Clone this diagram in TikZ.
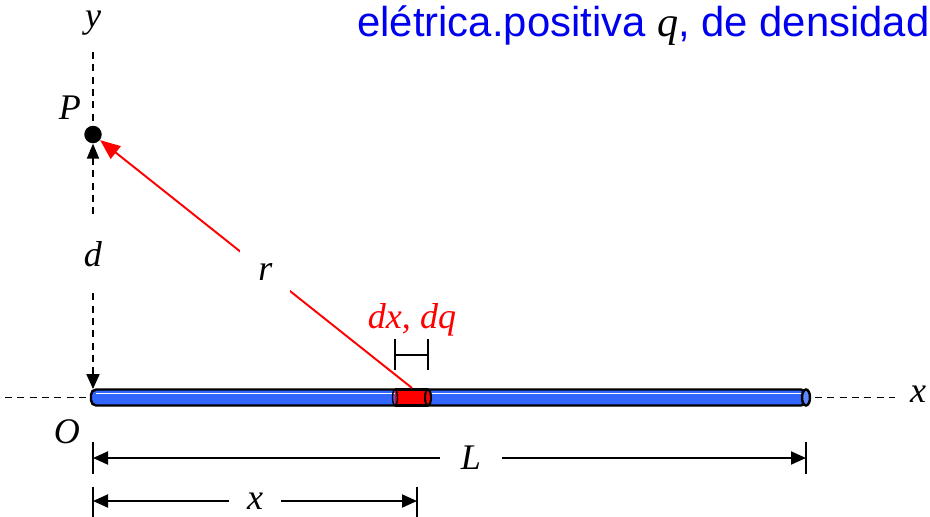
\documentclass[tikz,border=0pt]{standalone}
\usepackage{fontspec}
\setmainfont{Liberation Serif}
\newfontfamily\titlefont{Liberation Sans}
\usetikzlibrary{arrows.meta,calc}
\definecolor{rodblue}{HTML}{3366FF}
\definecolor{rodcap}{HTML}{5F86FF}
\definecolor{elemred}{HTML}{FF0000}
\definecolor{titleblue}{HTML}{0000F0}

\begin{document}
\begin{tikzpicture}[
  x=0.2mm, y=-0.2mm,
  lbl/.style={font=\fontsize{20.5}{24}\selectfont\itshape, inner sep=1pt},
  axis/.style={draw=black, line width=1.1pt, dash pattern=on 4pt off 3pt},
  dimline/.style={draw=black, line width=1.1pt, {Triangle[length=3mm,width=2.6mm]}-{Triangle[length=3mm,width=2.6mm]}},
  tick/.style={draw=black, line width=1.2pt},
  rvec/.style={draw=elemred, line width=1.1pt, -{Triangle[length=4mm,width=3.2mm]}},
  dot/.style={circle, fill=black, minimum size=3.5mm, inner sep=0pt},
  gap/.style={fill=white, inner xsep=1pt},
]
\useasboundingbox (0,0) rectangle (930,517);
\clip (0,0) rectangle (930,517);

% ---- title line (cut at the right edge) ----
\node[anchor=base west, inner sep=0pt, text=titleblue, font=\titlefont\fontsize{23.8}{28}\selectfont]
  (title) at (357,36) {elétrica.positiva {\color{black}\rmfamily\itshape\fontsize{24}{28}\selectfont q}, de densidad};

% ---- points ----
\def\yRod{397.5}
\coordinate (O) at (93,\yRod);
\coordinate (Otop) at (93,389);
\coordinate (yend) at (93,52);
\coordinate (dqtop) at (412,388);
\node[dot] (P) at (93,134.5) {};

% ---- axes ----
\draw[axis] (yend) -- (P);
\coordinate (xl) at (5,\yRod);
\coordinate (xl2) at (88,\yRod);
\coordinate (xr) at (815,\yRod);
\coordinate (xr2) at (895,\yRod);
\draw[axis] (xl) -- (xl2);
\draw[axis] (xr) -- (xr2);
\node[lbl] (ylab) at (93,23) {y};
\node[lbl] (xlab) at (918,394) {x};
\node[lbl] (Plab) at (70,108) {P};
\node[lbl] (Olab) at (67,432) {O};

% distance d
\draw[axis, {Triangle[length=3mm,width=2.4mm]}-{Triangle[length=3mm,width=2.6mm]}]
  (P) -- node[lbl, gap, minimum height=15mm, pos=0.45] (dlab) {d} (Otop);

% ---- rod ----
\filldraw[fill=rodblue, draw=black, line width=1.4pt, rounded corners=3pt] (91,389.5) rectangle (806,405.5);
\draw[white, line width=0.8pt] (96,393.5) -- (802,393.5);
\filldraw[fill=rodcap, draw=black, line width=1.4pt] (806,397.5) ellipse (4 and 8);

% charge element
\fill[elemred] (395,389.5) rectangle (428,405.5);
\draw[black, line width=1.4pt] (395,389.5) -- (428,389.5) (395,405.5) -- (428,405.5);
\draw[black, line width=0.8pt] (395,397.5) ellipse (2.5 and 8);
\filldraw[fill=elemred, draw=black, line width=1.2pt] (428,397.5) ellipse (3 and 8);

% dx marker
\coordinate (dxa) at (395,355);
\coordinate (dxb) at (428,355);
\draw[tick] (395,339) -- (395,370);
\draw[tick] (428,339) -- (428,370);
\draw[tick] (dxa) -- (dxb);
\node[lbl, text=elemred] (dxlab) at (412,320) {dx, dq};

% ---- vector r ----
\draw[rvec] (dqtop) -- node[lbl, gap, pos=0.47, minimum width=10mm, minimum height=9mm] (rlab) {r} (P);

% ---- dimensions L and x ----
\coordinate (La) at (93,458);
\coordinate (Lb) at (806,458);
\draw[tick] (93,442) -- (93,474);
\draw[tick] (806,442) -- (806,474);
\draw[dimline] (La) -- node[lbl, gap, inner xsep=12pt, pos=0.53] (Llab) {L} (Lb);

\coordinate (xa) at (93,501);
\coordinate (xb) at (417,501);
\draw[tick] (93,487) -- (93,520);
\draw[tick] (417,487) -- (417,520);
\draw[dimline] (xa) -- node[lbl, gap, inner xsep=10pt, pos=0.5] (xdlab) {x} (xb);

\end{tikzpicture}
\end{document}
